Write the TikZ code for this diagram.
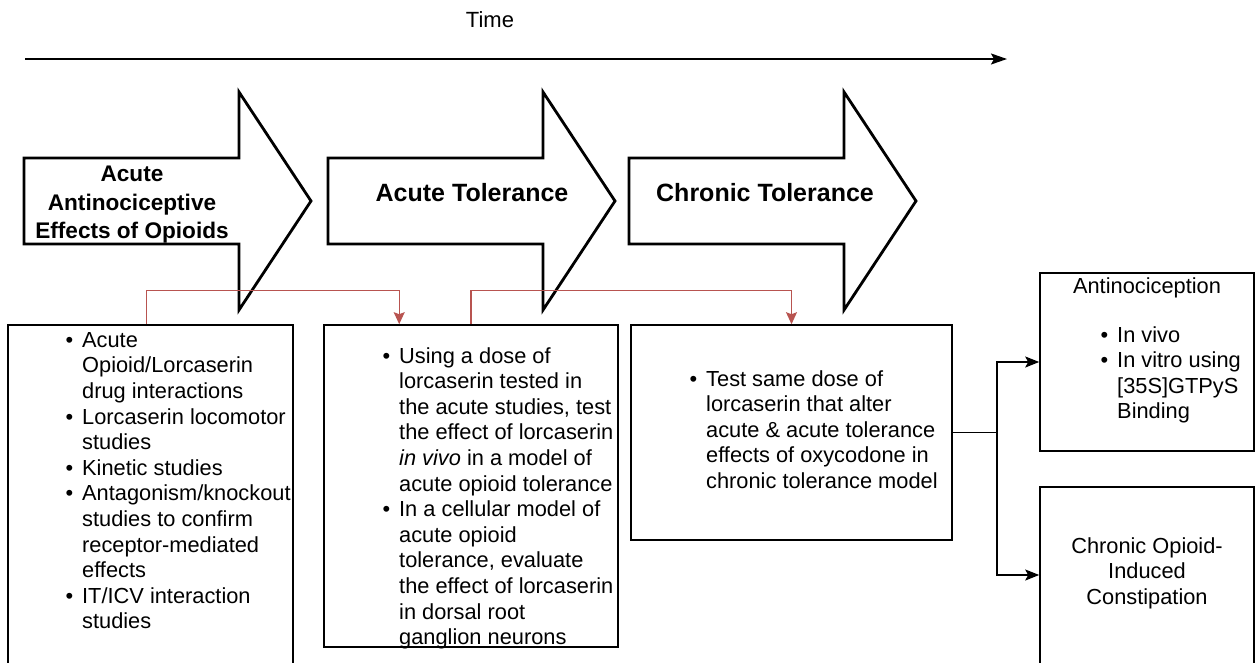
\documentclass[tikz,border=0pt]{standalone}
\usepackage{fontspec}
\setmainfont{Liberation Sans}
\usepackage{tikz}
\usetikzlibrary{arrows.meta}
\definecolor{linkred}{HTML}{B85450}

% bullet hung to the left of a list line
\newcommand{\bul}{\llap{\textbullet\hspace{9pt}}}

\begin{document}
\begin{tikzpicture}[x=1pt, y=-1pt, line join=miter,
  bigarrow/.style={draw, fill=white, line width=2.8pt},
  box/.style={draw, line width=1.6pt, inner sep=0pt},
  body/.style={inner sep=0pt, align=left, font=\fontsize{21.8}{25.6}\selectfont},
  phase/.style={inner sep=0pt, align=center, font=\bfseries\fontsize{25}{28.5}\selectfont},
  redlink/.style={linkred, line width=1.3pt, -{Stealth[length=12pt, width=11pt, inset=2pt]}},
  link/.style={line width=1.8pt}]
  \clip (0,0) rectangle (1256,662);
  % time axis
  \node[font=\fontsize{22}{26}\selectfont] (time) at (490,20) {Time};
  \coordinate (t0) at (25,59);
  \coordinate (t1) at (1007,59);
  \draw[link, -{Stealth[length=16pt, width=11pt, inset=3pt]}] (t0) -- (t1);
  % the three phase arrows
  \foreach \x in {24,328,629}
    \draw[bigarrow] (\x,158) -- ++(215,0) -- ++(0,-66) -- ++(72,109)
      -- ++(-72,109) -- ++(0,-66) -- ++(-215,0) -- cycle;
  \node[phase, font=\bfseries\fontsize{22.6}{28.5}\selectfont] (p1) at (132,205)
    {Acute\\Antinociceptive\\Effects of Opioids};
  \node[phase] (p2) at (472,193) {Acute Tolerance};
  \node[phase] (p3) at (765,193) {Chronic Tolerance};
  % boxes (the first and last run off the bottom edge)
  \node[box, minimum width=285pt, minimum height=355pt] (b1) at (150.5,502.5) {};
  \node[box, minimum width=294pt, minimum height=322pt] (b2) at (471,486) {};
  \node[box, minimum width=321pt, minimum height=215pt] (b3) at (791.5,432.5) {};
  \node[box, minimum width=214pt, minimum height=178pt] (b4) at (1147,362) {};
  \node[box, minimum width=214pt, minimum height=193pt] (b5) at (1147,583.5) {};
  % box texts
  \node[body, anchor=north west] (l1) at (82,332)
    {\bul Acute\\Opioid/Lorcaserin\\drug interactions\\
     \bul Lorcaserin locomotor\\studies\\
     \bul Kinetic studies\\
     \bul Antagonism/knockout\\studies to confirm\\receptor-mediated\\effects\\
     \bul IT/ICV interaction\\studies};
  \node[body, anchor=north west] (l2) at (399,347)
    {\bul Using a dose of\\lorcaserin tested in\\the acute studies, test\\
     the effect of lorcaserin\\\textit{in vivo} in a model of\\acute opioid tolerance\\
     \bul In a cellular model of\\acute opioid\\tolerance, evaluate\\
     the effect of lorcaserin\\in dorsal root\\ganglion neurons};
  \node[body, anchor=north west] (l3) at (706,370)
    {\bul Test same dose of\\lorcaserin that alter\\acute \& acute tolerance\\
     effects of oxycodone in\\chronic tolerance model};
  \node[body, anchor=north] (h4) at (1147,277) {Antinociception};
  \node[body, anchor=north west] (l4) at (1117,326)
    {\bul In vivo\\\bul In vitro using\\{[35S]}GTPyS\\Binding};
  \node[body, align=center] (t5) at (1147,573) {Chronic Opioid-\\Induced\\Constipation};
  % links between the boxes
  \draw[redlink] ([xshift=139pt]b1.north west) -- ++(0,-34) -| ([xshift=76pt]b2.north west);
  \draw[redlink] (b2.north) -- ++(0,-34) -| (b3.north);
  \draw[link] (b3.east) -- ++(44,0) coordinate (fork);
  \draw[link, -{Stealth[length=14pt, width=11pt, inset=3pt]}] (fork) |- (b4.west);
  \draw[link, -{Stealth[length=14pt, width=11pt, inset=3pt]}] (fork) |- ([yshift=8.5pt]b5.west);
\end{tikzpicture}
\end{document}
